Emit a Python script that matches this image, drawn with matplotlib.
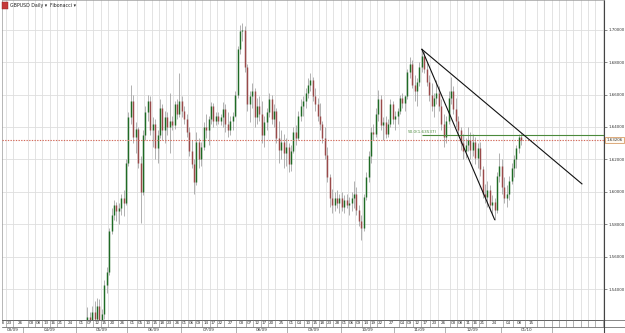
import matplotlib
matplotlib.use("Agg")
import matplotlib.pyplot as plt
import numpy as np
import pandas as pd
from matplotlib.patches import Rectangle
from matplotlib.lines import Line2D

# ---------------- data ----------------
symbol_title = "GBPUSD Daily \u25BE"
indicator_title = "Fibonacci \u25BE"
first_date = "2009-05-05"

opens = [1.4980,1.5060,1.5150,1.5230,1.5140,1.5260,1.5220,1.5300,1.5200,1.5250,
         1.5430,1.5510,1.5760,1.5860,1.5920,1.5880,1.5900,1.5960,1.5930,1.6180,
         1.6460,1.6560,1.6340,1.6390,1.6180,1.6000,1.6350,1.6490,1.6560,1.6380,
         1.6420,1.6270,1.6350,1.6520,1.6380,1.6460,1.6400,1.6440,1.6410,1.6540,
         1.6480,1.6560,1.6500,1.6450,1.6370,1.6250,1.6170,1.6060,1.6310,1.6200,
         1.6280,1.6400,1.6380,1.6450,1.6530,1.6440,1.6470,1.6440,1.6460,1.6510,
         1.6420,1.6380,1.6440,1.6470,1.6600,1.6880,1.6990,1.7000,1.6770,1.6540,
         1.6590,1.6620,1.6460,1.6530,1.6480,1.6350,1.6430,1.6490,1.6570,1.6450,
         1.6500,1.6330,1.6260,1.6310,1.6240,1.6280,1.6170,1.6250,1.6370,1.6330,
         1.6470,1.6530,1.6560,1.6610,1.6660,1.6690,1.6590,1.6540,1.6470,1.6420,
         1.6330,1.6230,1.6090,1.5960,1.5920,1.5960,1.5930,1.5960,1.5910,1.5950,
         1.5920,1.5930,1.5960,1.5990,1.5890,1.5820,1.5780,1.5970,1.6090,1.6220,
         1.6370,1.6360,1.6480,1.6570,1.6410,1.6430,1.6360,1.6420,1.6540,1.6450,
         1.6470,1.6500,1.6580,1.6550,1.6590,1.6740,1.6790,1.6660,1.6620,1.6680,
         1.6770,1.6840,1.6760,1.6680,1.6600,1.6530,1.6580,1.6610,1.6530,1.6420,
         1.6340,1.6440,1.6580,1.6620,1.6510,1.6440,1.6380,1.6300,1.6250,1.6290,
         1.6320,1.6260,1.6310,1.6210,1.6270,1.6140,1.5990,1.5970,1.6010,1.5920,
         1.5940,1.5890,1.6100,1.6160,1.6030,1.5960,1.5990,1.6070,1.6150,1.6200,
         1.6270,1.6340]
highs = [1.5090,1.5180,1.5290,1.5260,1.5300,1.5330,1.5350,1.5340,1.5280,1.5460,
         1.5540,1.5780,1.5900,1.5950,1.5940,1.5930,1.5990,1.6010,1.6200,1.6490,
         1.6660,1.6600,1.6430,1.6400,1.6220,1.6380,1.6530,1.6600,1.6590,1.6460,
         1.6450,1.6380,1.6570,1.6540,1.6500,1.6490,1.6610,1.6470,1.6560,1.6570,
         1.6730,1.6590,1.6530,1.6480,1.6400,1.6320,1.6200,1.6370,1.6330,1.6310,
         1.6430,1.6480,1.6470,1.6555,1.6550,1.6490,1.6490,1.6480,1.6555,1.6540,
         1.6490,1.6470,1.6490,1.6620,1.6900,1.7030,1.7043,1.7020,1.6790,1.6620,
         1.6670,1.6640,1.6580,1.6590,1.6560,1.6470,1.6520,1.6610,1.6600,1.6540,
         1.6520,1.6440,1.6380,1.6360,1.6330,1.6300,1.6290,1.6400,1.6410,1.6500,
         1.6570,1.6590,1.6640,1.6700,1.6730,1.6710,1.6640,1.6580,1.6550,1.6440,
         1.6400,1.6280,1.6110,1.6020,1.6000,1.6010,1.5990,1.6000,1.5980,1.5990,
         1.5970,1.6000,1.6070,1.6030,1.5920,1.5860,1.5990,1.6120,1.6250,1.6400,
         1.6420,1.6520,1.6630,1.6600,1.6460,1.6470,1.6450,1.6570,1.6560,1.6500,
         1.6520,1.6600,1.6610,1.6600,1.6760,1.6830,1.6810,1.6720,1.6700,1.6800,
         1.6878,1.6870,1.6800,1.6720,1.6670,1.6610,1.6690,1.6650,1.6570,1.6480,
         1.6470,1.6620,1.6710,1.6650,1.6580,1.6470,1.6400,1.6360,1.6330,1.6400,
         1.6370,1.6360,1.6340,1.6300,1.6310,1.6160,1.6050,1.6070,1.6040,1.5980,
         1.5960,1.6120,1.6240,1.6200,1.6090,1.6040,1.6100,1.6180,1.6230,1.6290,
         1.6360,1.6365]
lows = [1.4950,1.5030,1.5120,1.5100,1.5120,1.5180,1.5200,1.5160,1.5120,1.5220,
        1.5380,1.5490,1.5740,1.5830,1.5820,1.5800,1.5860,1.5850,1.5920,1.6160,
        1.6420,1.6300,1.6240,1.6150,1.5810,1.5980,1.6320,1.6440,1.6350,1.6280,
        1.6200,1.6180,1.6330,1.6320,1.6300,1.6350,1.6240,1.6380,1.6390,1.6450,
        1.6460,1.6460,1.6420,1.6340,1.6220,1.6150,1.5990,1.6040,1.6150,1.6160,
        1.6260,1.6330,1.6290,1.6420,1.6400,1.6410,1.6420,1.6410,1.6400,1.6370,
        1.6340,1.6350,1.6380,1.6460,1.6580,1.6850,1.6930,1.6740,1.6500,1.6430,
        1.6520,1.6400,1.6420,1.6440,1.6300,1.6280,1.6380,1.6460,1.6420,1.6400,
        1.6300,1.6180,1.6200,1.6150,1.6160,1.6120,1.6130,1.6240,1.6290,1.6320,
        1.6440,1.6470,1.6520,1.6580,1.6620,1.6560,1.6500,1.6440,1.6380,1.6300,
        1.6200,1.6060,1.5910,1.5870,1.5880,1.5900,1.5870,1.5880,1.5870,1.5900,
        1.5860,1.5880,1.5900,1.5860,1.5790,1.5705,1.5760,1.5950,1.6060,1.6180,
        1.6320,1.6340,1.6440,1.6380,1.6320,1.6330,1.6340,1.6400,1.6420,1.6380,
        1.6420,1.6480,1.6520,1.6500,1.6570,1.6700,1.6640,1.6560,1.6530,1.6650,
        1.6740,1.6730,1.6650,1.6560,1.6500,1.6460,1.6540,1.6500,1.6380,1.6280,
        1.6300,1.6420,1.6540,1.6480,1.6400,1.6350,1.6260,1.6200,1.6210,1.6250,
        1.6200,1.6220,1.6170,1.6150,1.6100,1.5960,1.5930,1.5910,1.5880,1.5860,
        1.5830,1.5870,1.6060,1.5990,1.5930,1.5910,1.5950,1.6050,1.6090,1.6150,
        1.6240,1.6290]
closes = [1.5060,1.5150,1.5230,1.5140,1.5260,1.5220,1.5300,1.5200,1.5250,1.5430,
          1.5510,1.5760,1.5860,1.5920,1.5880,1.5900,1.5960,1.5930,1.6180,1.6460,
          1.6560,1.6340,1.6390,1.6180,1.6000,1.6350,1.6490,1.6560,1.6380,1.6420,
          1.6270,1.6350,1.6520,1.6380,1.6460,1.6400,1.6440,1.6410,1.6540,1.6480,
          1.6560,1.6500,1.6450,1.6370,1.6250,1.6170,1.6060,1.6310,1.6200,1.6280,
          1.6400,1.6380,1.6450,1.6530,1.6440,1.6470,1.6440,1.6460,1.6510,1.6420,
          1.6380,1.6440,1.6470,1.6600,1.6880,1.6990,1.7000,1.6770,1.6540,1.6590,
          1.6620,1.6460,1.6530,1.6480,1.6350,1.6430,1.6490,1.6570,1.6450,1.6500,
          1.6330,1.6260,1.6310,1.6240,1.6280,1.6170,1.6250,1.6370,1.6330,1.6470,
          1.6530,1.6560,1.6610,1.6660,1.6690,1.6590,1.6540,1.6470,1.6420,1.6330,
          1.6230,1.6090,1.5960,1.5920,1.5960,1.5930,1.5960,1.5910,1.5950,1.5920,
          1.5930,1.5960,1.5990,1.5890,1.5820,1.5780,1.5970,1.6090,1.6220,1.6370,
          1.6360,1.6480,1.6570,1.6410,1.6430,1.6360,1.6420,1.6540,1.6450,1.6470,
          1.6500,1.6580,1.6550,1.6590,1.6740,1.6790,1.6660,1.6620,1.6680,1.6770,
          1.6840,1.6760,1.6680,1.6600,1.6530,1.6580,1.6610,1.6530,1.6420,1.6340,
          1.6440,1.6580,1.6620,1.6510,1.6440,1.6380,1.6300,1.6250,1.6290,1.6320,
          1.6260,1.6310,1.6210,1.6270,1.6140,1.5990,1.5970,1.6010,1.5920,1.5940,
          1.5890,1.6100,1.6160,1.6030,1.5960,1.5990,1.6070,1.6150,1.6200,1.6270,
          1.6340,1.63206]

current_price = 1.63206
fib_level = 1.63537
fib_label = "50.0(1.63537)"
fib_start = "2009-11-17"
trend_a_dates = ["2009-11-17", "2009-12-29"]
trend_a_prices = [1.6878, 1.5830]
trend_b_dates = ["2009-11-17", "2010-02-17"]
trend_b_prices = [1.6878, 1.6050]

price_ticks = [1.54, 1.56, 1.58, 1.60, 1.62, 1.64, 1.66, 1.68, 1.70]

label_dates = ["2009-03-18", "2009-03-23", "2009-03-26",
               "2009-04-03", "2009-04-08", "2009-04-13", "2009-04-16", "2009-04-21", "2009-04-24",
               "2009-05-01", "2009-05-07", "2009-05-12", "2009-05-15", "2009-05-20", "2009-05-26",
               "2009-06-01", "2009-06-05", "2009-06-10", "2009-06-15", "2009-06-18", "2009-06-23", "2009-06-26",
               "2009-07-01", "2009-07-06", "2009-07-09", "2009-07-14", "2009-07-17", "2009-07-22", "2009-07-27",
               "2009-08-03", "2009-08-07", "2009-08-12", "2009-08-17", "2009-08-20", "2009-08-25",
               "2009-09-01", "2009-09-04", "2009-09-10", "2009-09-15", "2009-09-18", "2009-09-23", "2009-09-28",
               "2009-10-01", "2009-10-06", "2009-10-09", "2009-10-14", "2009-10-19", "2009-10-22", "2009-10-27",
               "2009-11-04", "2009-11-09", "2009-11-12", "2009-11-17", "2009-11-23", "2009-11-26",
               "2009-12-03", "2009-12-08", "2009-12-11", "2009-12-16", "2009-12-21", "2009-12-24",
               "2010-01-04", "2010-01-08", "2010-01-15"]
month_starts = ["2009-03-01", "2009-04-01", "2009-05-01", "2009-06-01", "2009-07-01", "2009-08-01",
                "2009-09-01", "2009-10-01", "2009-11-01", "2009-12-01", "2010-01-01", "2010-02-01"]
month_labels = ["03/09", "04/09", "05/09", "06/09", "07/09", "08/09",
                "09/09", "10/09", "11/09", "12/09", "01/10"]

# ---------------- calendar ----------------
cal = pd.bdate_range("2009-03-18", periods=300)


def pos(d):
    return int(cal.searchsorted(pd.Timestamp(d))) - 1


W, H = 625, 333
fig = plt.figure(figsize=(W / 100, H / 100), dpi=100)
fig.patch.set_facecolor("white")

ax_l, ax_r, ax_b = 2, 604, 320
ax = fig.add_axes([ax_l / W, (H - ax_b) / H, (ax_r - ax_l) / W, ax_b / H])
xmin, xmax = -0.165, 248.1
ymax = 1.64 + 127 * 0.02 / 32.5
ymin = 1.64 - 193 * 0.02 / 32.5
ax.set_xlim(xmin, xmax)
ax.set_ylim(ymin, ymax)

grid_c = "#dedede"
# horizontal grid
for p in price_ticks:
    ax.axhline(p, color=grid_c, lw=0.6, zorder=0)

# date cells
cell_pos = [pos(d) for d in label_dates]
last = cell_pos[-1]
future = list(range(last + 5, int(xmax) + 3, 3))
cell_edges = [c - 0.5 for c in cell_pos + future]
for e in cell_edges:
    ax.axvline(e, color=grid_c, lw=0.6, zorder=0)

# candles
x0 = pos(first_date)
xs = np.arange(x0, x0 + len(closes))
o = np.array(opens); h = np.array(highs); l = np.array(lows); c = np.array(closes)
up = c >= o
ax.vlines(xs, l, h, color="#9c9c9c", lw=0.55, zorder=2)
bull_c, bear_c = "#1f6b25", "#9a4a4a"
bh = np.maximum(np.abs(c - o), 0.0004)
bot = np.minimum(o, c)
ax.vlines(xs[up], bot[up], bot[up] + bh[up], color=bull_c, lw=1.05, zorder=3)
ax.vlines(xs[~up], bot[~up], bot[~up] + bh[~up], color=bear_c, lw=1.05, zorder=3)

# current price line
ax.axhline(current_price, color="#d26a5a", lw=0.8, ls=(0, (1.2, 1.2)), zorder=4)

# fib line
ax.hlines(fib_level, pos(fib_start), xmax, color="#4b8a3c", lw=0.8, zorder=4)
ax.text(pos(fib_start) - 5.8, fib_level + 0.0004, fib_label, fontsize=3.0,
        color="#4b8a3c", ha="left", va="bottom", zorder=5)

# trend lines
ax.plot([pos(d) for d in trend_a_dates], trend_a_prices, color="#111111", lw=0.8, zorder=5)
ax.plot([pos(d) for d in trend_b_dates], trend_b_prices, color="#111111", lw=0.8, zorder=5)

# axes styling
for s in ["left", "top", "bottom"]:
    ax.spines[s].set_color("#9a9a9a")
    ax.spines[s].set_linewidth(0.5)
ax.spines["right"].set_color("#444444")
ax.spines["right"].set_linewidth(0.8)
ax.set_xticks([])
ax.yaxis.tick_right()
ax.set_yticks(price_ticks)
ax.set_yticklabels([f"{p:.5f}" for p in price_ticks])
ax.set_yticks(np.arange(1.525, 1.7175, 0.005), minor=True)
ax.tick_params(axis="y", which="major", labelsize=2.9, length=2.0, width=0.4,
               pad=1.2, colors="#333333")
ax.tick_params(axis="y", which="minor", length=1.0, width=0.3, colors="#555555")

# current price label
ax.text(1.004, current_price, f"{current_price:.5f}", transform=ax.get_yaxis_transform(),
        fontsize=2.9, color="#333333", ha="left", va="center", zorder=6,
        bbox=dict(boxstyle="square,pad=0.25", fc="#fffaf2", ec="#d08a4a", lw=0.5))

# header
fig.add_artist(Rectangle((2 / W, 1 - 9 / H), 6 / W, 7 / H, transform=fig.transFigure,
                         fc="#c43a3a", ec="#902020", lw=0.3))
fig.text(10 / W, 1 - 5.5 / H, symbol_title, fontsize=3.4, color="#222222", va="center", ha="left")
fig.text(50 / W, 1 - 5.5 / H, indicator_title, fontsize=3.4, color="#222222", va="center", ha="left")

# ---------------- date strip ----------------
sx = fig.add_axes([ax_l / W, 0, (ax_r - ax_l) / W, (H - ax_b) / H], sharex=ax)
sx.set_xlim(xmin, xmax)
sx.set_ylim(0, 13)
sx.axis("off")
line_c = "#555555"
sx.axhline(12.8, color=line_c, lw=0.6)
sx.axhline(6.2, color=line_c, lw=0.5)
sx.axhline(0.4, color=line_c, lw=0.5)
all_cells = cell_pos + future
for k, e in enumerate(cell_edges):
    sx.vlines(e, 6.2, 12.8, color="#777777", lw=0.4)
for k, cp in enumerate(cell_pos):
    nxt = all_cells[k + 1] if k + 1 < len(all_cells) else cp + 4
    cx = (cp - 0.5 + nxt - 0.5) / 2
    if xmin - 1 < cx < xmax:
        sx.text(cx, 9.5, pd.Timestamp(label_dates[k]).strftime("%d"), fontsize=3.0,
                color="#333333", ha="center", va="center", clip_on=True)
mpos = [pos(d) - 0.5 for d in month_starts]
for mp in mpos:
    sx.vlines(mp, 0.4, 6.2, color="#777777", lw=0.4)
for k, lab in enumerate(month_labels):
    a = max(mpos[k], xmin)
    b = min(mpos[k + 1], xmax)
    sx.text((a + b) / 2, 3.2, lab, fontsize=3.0, color="#333333", ha="center", va="center")

# right-side box of the strip
for yy in [12.8, 6.2, 0.4]:
    fig.add_artist(Line2D([ax_r / W, 1], [yy / H, yy / H], transform=fig.transFigure,
                          color=line_c, lw=0.5))
fig.add_artist(Line2D([ax_r / W, ax_r / W], [0, 13 / H], transform=fig.transFigure,
                      color="#444444", lw=0.8))

fig.savefig("out.png", dpi=100, facecolor="white")
